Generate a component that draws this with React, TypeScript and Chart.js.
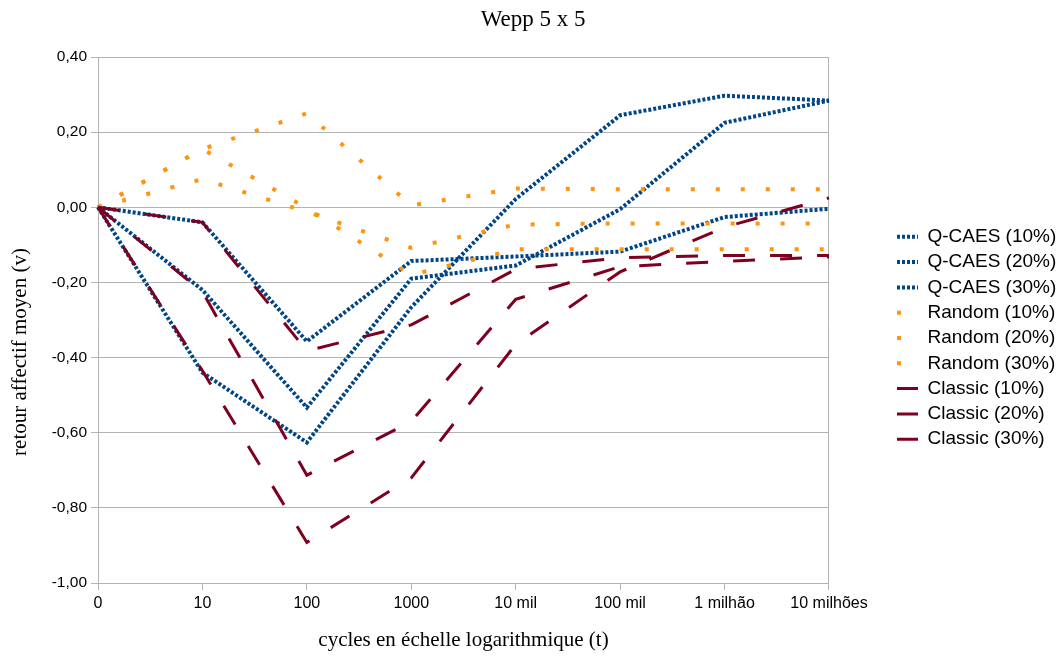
import React, { useEffect, useRef } from 'react';
import { Chart, registerables } from 'chart.js';

Chart.register(...registerables);

const categories = ['0', '10', '100', '1000', '10 mil', '100 mil', '1 milhão', '10 milhões'];

const qcaes10 = [0, -0.04, -0.357, -0.143, -0.131, -0.118, -0.026, -0.004];
const qcaes20 = [0, -0.22, -0.533, -0.19, -0.155, -0.005, 0.225, 0.284];
const qcaes30 = [0, -0.44, -0.626, -0.266, 0.022, 0.245, 0.297, 0.284];

const random10 = [0, 0.155, 0.25, 0.005, 0.05, 0.048, 0.048, 0.048];
const random20 = [0, 0.075, -0.012, -0.108, -0.046, -0.043, -0.043, -0.043];
const random30 = [0, 0.155, -0.002, -0.18, -0.112, -0.112, -0.112, -0.112];

const classic10 = [0, -0.04, -0.382, -0.313, -0.165, -0.134, -0.128, -0.128];
const classic20 = [0, -0.225, -0.713, -0.57, -0.245, -0.158, -0.144, -0.132];
const classic30 = [0, -0.435, -0.892, -0.72, -0.365, -0.172, -0.053, 0.025];

const yMin = -1.0;
const yMax = 0.4;
const yStep = 0.2;

const chartTitle = 'Wepp 5 x 5';
const xTitle = 'cycles en échelle logarithmique (t)';
const yTitle = 'retour affectif moyen (v)';

const BLUE = '#004586';
const ORANGE = '#ff950e';
const RED = '#7e0021';

const qStyle = { borderColor: BLUE, backgroundColor: BLUE, borderWidth: 4, borderDash: [3, 2], order: 3 };
const rStyle = { borderColor: ORANGE, backgroundColor: ORANGE, borderWidth: 4, borderDash: [4, 21], order: 2 };
const cStyle = { borderColor: RED, backgroundColor: RED, borderWidth: 3, borderDash: [22, 25], order: 1 };

const yTitlePlugin = {
  id: 'yTitleDraw',
  afterDraw(chart: any) {
    const ctx = chart.ctx;
    ctx.save();
    ctx.translate(20, 352);
    ctx.rotate(-Math.PI / 2);
    ctx.font = '21px "Liberation Serif"';
    ctx.fillStyle = '#000';
    ctx.textAlign = 'center';
    ctx.textBaseline = 'middle';
    ctx.fillText(yTitle, 0, 0);
    ctx.restore();
  },
};

export default function App() {
  const ref = useRef<HTMLCanvasElement | null>(null);

  useEffect(() => {
    if (!ref.current) return;
    const mk = (label: string, data: number[], style: any) => ({
      label,
      data,
      ...style,
      borderCapStyle: 'butt',
      borderJoinStyle: 'miter',
      pointRadius: 0,
      pointHoverRadius: 0,
      fill: false,
      tension: 0,
    });
    const chart = new Chart(ref.current, {
      type: 'line',
      data: {
        labels: categories,
        datasets: [
          mk('Q-CAES (10%)', qcaes10, qStyle),
          mk('Q-CAES (20%)', qcaes20, qStyle),
          mk('Q-CAES (30%)', qcaes30, qStyle),
          mk('Random (10%)', random10, rStyle),
          mk('Random (20%)', random20, rStyle),
          mk('Random (30%)', random30, rStyle),
          mk('Classic (10%)', classic10, cStyle),
          mk('Classic (20%)', classic20, cStyle),
          mk('Classic (30%)', classic30, cStyle),
        ] as any,
      },
      options: {
        animation: false,
        responsive: false,
        devicePixelRatio: 1,
        events: [],
        layout: { padding: { left: 0, right: -8.3, top: 0, bottom: 0 } },
        plugins: {
          tooltip: { enabled: false },
          title: {
            display: true,
            text: chartTitle,
            color: '#000',
            font: { family: 'Liberation Serif', size: 23, weight: 'normal' },
            padding: { top: 6.2, bottom: 23.2 },
          },
          legend: {
            display: true,
            position: 'right',
            align: 'center',
            fullSize: false,
            title: { display: true, text: ' ', font: { size: 10 }, padding: 12 },
            labels: {
              color: '#000',
              font: { family: 'Liberation Sans', size: 19 },
              usePointStyle: true,
              pointStyle: 'line',
              pointStyleWidth: 21,
              padding: 6.3,
              generateLabels: (ch: any) =>
                ch.data.datasets.map((ds: any, i: number) => ({
                  text: ds.label,
                  strokeStyle: ds.borderColor,
                  fillStyle: ds.borderColor,
                  fontColor: '#000',
                  lineWidth: ds.borderWidth,
                  lineDash: ds.borderDash,
                  lineDashOffset: 0,
                  lineCap: 'butt',
                  pointStyle: 'line',
                  rotation: 0,
                  hidden: false,
                  datasetIndex: i,
                })),
            },
          },
        },
        scales: {
          x: {
            type: 'category',
            offset: false,
            grid: { display: true, drawOnChartArea: false, drawTicks: true, tickLength: 7, color: '#b3b3b3' },
            border: { display: true, color: '#b3b3b3' },
            ticks: {
              color: '#000',
              font: { family: 'Liberation Sans', size: 16 },
              padding: 4,
              maxRotation: 0,
              minRotation: 0,
              autoSkip: false,
            },
            title: {
              display: true,
              text: xTitle,
              color: '#000',
              font: { family: 'Liberation Serif', size: 21 },
              padding: { top: 10.2, bottom: 6.4 },
            },
          },
          y: {
            position: 'left',
            min: yMin,
            max: yMax,
            grid: { color: '#b3b3b3', tickLength: 7, drawTicks: true },
            border: { display: true, color: '#b3b3b3' },
            ticks: {
              stepSize: yStep,
              color: '#000',
              font: { family: 'Liberation Sans', size: 15.5 },
              padding: 4,
              callback: (v: any) => {
                let n = Number(v);
                if (Math.abs(n) < 1e-9) n = 0;
                return n.toFixed(2).replace('.', ',');
              },
            },
            afterFit: (s: any) => {
              s.width = 98;
            },
          },
          y2: {
            position: 'right',
            display: true,
            min: 0,
            max: 1,
            grid: { display: false, drawTicks: false },
            border: { display: true, color: '#b3b3b3' },
            ticks: { display: false },
            afterFit: (s: any) => {
              s.width = 61.7;
            },
          },
        },
      } as any,
      plugins: [yTitlePlugin],
    });
    return () => chart.destroy();
  }, []);

  return (
    <div style={{ position: 'absolute', left: 0, top: 0, width: 1058, height: 659, background: '#fff' }}>
      <canvas ref={ref} width={1058} height={659} style={{ display: 'block' }} />
    </div>
  );
}
